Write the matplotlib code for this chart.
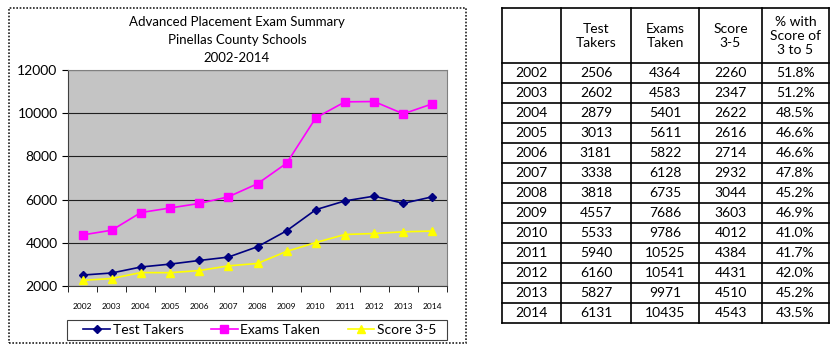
import numpy as np
import matplotlib.pyplot as plt
from matplotlib.patches import Rectangle

plt.rcParams['font.family'] = ['Lato', 'DejaVu Sans']

years = ['2002', '2003', '2004', '2005', '2006', '2007', '2008',
         '2009', '2010', '2011', '2012', '2013', '2014']
test_takers = [2506, 2602, 2879, 3013, 3181, 3338, 3818, 4557, 5533, 5940, 6160, 5827, 6131]
exams_taken = [4364, 4583, 5401, 5611, 5822, 6128, 6735, 7686, 9786, 10525, 10541, 9971, 10435]
score_3_5 = [2260, 2347, 2622, 2616, 2714, 2932, 3044, 3603, 4012, 4384, 4431, 4510, 4543]
pct_3_5 = ['51.8%', '51.2%', '48.5%', '46.6%', '46.6%', '47.8%', '45.2%',
           '46.9%', '41.0%', '41.7%', '42.0%', '45.2%', '43.5%']
headers = ['', 'Test\nTakers', 'Exams\nTaken', 'Score\n3-5', '% with\nScore of\n3 to 5']

W, H = 840, 355
fig = plt.figure(figsize=(W / 100, H / 100), dpi=100)
fig.patch.set_facecolor('white')

# chart frame
fig.patches.append(Rectangle((9 / W, 1 - 343 / H), (466 - 9) / W, (343 - 8) / H,
                             transform=fig.transFigure, fill=False,
                             edgecolor='#202020', linewidth=1.2, linestyle=(0, (1, 1))))

# plot area
ax = fig.add_axes([68 / W, 1 - 286 / H, (447 - 68) / W, (286 - 70) / H])
ax.set_facecolor('#c4c4c4')
x = np.arange(len(years))
ax.plot(x, test_takers, color='#000080', marker='D', markersize=4, lw=1.2, label='Test Takers')
ax.plot(x, exams_taken, color='#ff00ff', marker='s', markersize=6, lw=1.2, label='Exams Taken')
ax.plot(x, score_3_5, color='#ffff00', marker='^', markersize=6, lw=1.2, label='Score 3-5')
ax.set_xlim(-0.5, len(years) - 0.5)
ax.set_ylim(2000, 12000)
ax.set_yticks([2000, 4000, 6000, 8000, 10000, 12000])
ax.tick_params(axis='y', labelsize=10, length=4, direction='out')
ax.set_xticks(x)
ax.set_xticklabels(years, fontsize=6)
ax.tick_params(axis='x', length=0, pad=12)
ax.set_xticks(np.arange(-0.5, len(years)), minor=True)
ax.tick_params(axis='x', which='minor', length=4, direction='out')
ax.grid(axis='y', color='#202020', lw=0.8)
ax.set_axisbelow(True)
for s in ['top', 'right']:
    ax.spines[s].set_color('#808080')
for s in ['left', 'bottom']:
    ax.spines[s].set_color('#404040')

fig.text(237 / W, 1 - 22 / H, 'Advanced Placement Exam Summary', ha='center', va='center', fontsize=9.5)
fig.text(237 / W, 1 - 40 / H, 'Pinellas County Schools', ha='center', va='center', fontsize=9.5)
fig.text(237 / W, 1 - 58 / H, '2002-2014', ha='center', va='center', fontsize=9.5)

# legend box spans the plot-area width
fig.patches.append(Rectangle((67 / W, 1 - 340 / H), (447 - 67) / W, 20 / H,
                             transform=fig.transFigure, fill=False,
                             edgecolor='#404040', linewidth=0.8))
fig.legend(loc='center', bbox_to_anchor=(260 / W, 1 - 330 / H), ncol=3, fontsize=10,
           frameon=False, handlelength=1.9, columnspacing=2.0,
           borderpad=0, handletextpad=0.2, borderaxespad=0)

# table
tx = fig.add_axes([0, 0, 1, 1])
tx.set_xlim(0, W)
tx.set_ylim(H, 0)
tx.axis('off')
col_edges = [502, 561, 631, 699, 762, 829]
row_edges = [8, 63] + [63 + 20 * (i + 1) for i in range(len(years))]
for cx in col_edges:
    tx.plot([cx, cx], [row_edges[0], row_edges[-1]], color='black', lw=1.2)
for ry in row_edges:
    tx.plot([col_edges[0], col_edges[-1]], [ry, ry], color='black', lw=1.2)
centers = [(col_edges[i] + col_edges[i + 1]) / 2 for i in range(len(col_edges) - 1)]
for c, h in zip(centers, headers):
    tx.text(c, 36, h, ha='center', va='center', fontsize=10, linespacing=1.25)
for i, yr in enumerate(years):
    cy = (row_edges[i + 1] + row_edges[i + 2]) / 2
    row = [yr, str(test_takers[i]), str(exams_taken[i]), str(score_3_5[i]), pct_3_5[i]]
    for c, v in zip(centers, row):
        tx.text(c, cy, v, ha='center', va='center', fontsize=10)

fig.savefig('out.png', dpi=100)
